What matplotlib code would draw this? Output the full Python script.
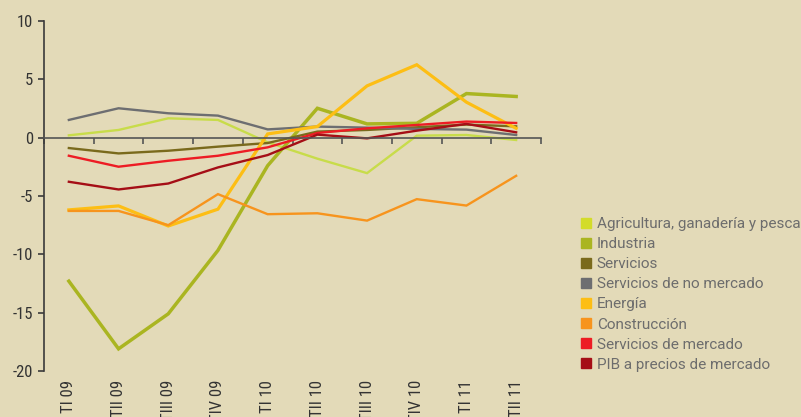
import matplotlib.pyplot as plt
from matplotlib.lines import Line2D
import numpy as np

trimestres = ['TI 09', 'TII 09', 'TIII 09', 'TIV 09', 'TI 10',
              'TII 10', 'TIII 10', 'TIV 10', 'TI 11', 'TII 11']

agricultura = [0.2, 0.66, 1.66, 1.52, -0.4, -1.8, -3.04, 0.17, 0.23, -0.2]
industria = [-12.3, -18.1, -15.1, -9.66, -2.4, 2.52, 1.18, 1.23, 3.78, 3.53]
servicios = [-0.89, -1.35, -1.12, -0.77, -0.46, 0.52, 0.66, 0.89, 1.12, 0.97]
no_mercado = [1.52, 2.52, 2.09, 1.89, 0.71, 0.95, 0.86, 0.75, 0.69, 0.23]
energia = [-6.19, -5.85, -7.57, -6.13, 0.32, 0.95, 4.44, 6.25, 3.04, 0.8]
construccion = [-6.28, -6.28, -7.5, -4.84, -6.56, -6.48, -7.11, -5.27, -5.82, -3.27]
mercado = [-1.55, -2.49, -1.98, -1.55, -0.83, 0.4, 0.8, 1.09, 1.38, 1.26]
pib = [-3.78, -4.44, -3.93, -2.55, -1.49, 0.26, -0.06, 0.6, 1.18, 0.46]

nombres = ['Agricultura, ganadería y pesca', 'Industria', 'Servicios',
           'Servicios de no mercado', 'Energía', 'Construcción',
           'Servicios de mercado', 'PIB a precios de mercado']
series = [agricultura, industria, servicios, no_mercado, energia,
          construccion, mercado, pib]
colores = ['#D3DC2A', '#AAB521', '#7A6A1C', '#6D6E71', '#FDBE14',
           '#F7941D', '#ED1C24', '#A50E16']
lineas = ['#C8DC4A', '#AAB521', '#7A6A1C', '#6D6E71', '#FDBE14',
          '#F7941D', '#ED1C24', '#A50E16']
grosor = [1.7, 2.5, 1.7, 1.7, 2.3, 1.7, 1.7, 1.7]

fondo = '#E3DAB8'
plt.rcParams['font.family'] = ['Liberation Sans Narrow', 'Roboto Condensed',
                               'Roboto', 'DejaVu Sans']
plt.rcParams['axes.unicode_minus'] = False

fig = plt.figure(figsize=(8.01, 4.17), dpi=100, facecolor=fondo)
ax = fig.add_axes([44 / 801, 1 - 371 / 417, 497 / 801, 350 / 417])
ax.set_facecolor(fondo)

x = np.arange(len(trimestres))
for s, c, w in zip(series, lineas, grosor):
    ax.plot(x, s, color=c, lw=w, solid_joinstyle='miter')

ax.set_xlim(-0.5, len(trimestres) - 0.5)
ax.set_ylim(-20, 10)
ax.set_yticks(np.arange(-20, 11, 5))
ax.tick_params(axis='y', direction='out', length=4, width=1.2,
               color='#3a3a3a', labelsize=12, labelcolor='#333333', pad=4)

for k in ['top', 'right']:
    ax.spines[k].set_visible(False)
ax.spines['left'].set_color('#3a3a3a')
ax.spines['left'].set_linewidth(1.2)
ax.spines['bottom'].set_position(('data', 0))
ax.spines['bottom'].set_color('#555555')
ax.spines['bottom'].set_linewidth(1.2)
ax.set_xticks(np.arange(-0.5, len(trimestres), 1))
ax.set_xticklabels([])
ax.tick_params(axis='x', direction='out', length=4, width=1.2, color='#555555')

sec = ax.secondary_xaxis(0)
sec.set_xticks(x)
sec.set_xticklabels(trimestres, rotation=90, va='top', ha='center')
sec.tick_params(length=0, pad=6.5, labelsize=12, labelcolor='#333333')
sec.spines['bottom'].set_visible(False)

handles = [Line2D([], [], ls='none', marker='s', ms=7.5, mfc=c, mec=c)
           for c in colores]
fig.legend(handles, nombres, loc='upper left',
           bbox_to_anchor=(580 / 801, 1 - 217 / 417), frameon=False,
           handlelength=0.8, handletextpad=0.3, labelspacing=0.4,
           borderaxespad=0, borderpad=0,
           prop={'family': 'Roboto', 'size': 11}, labelcolor='#6d6d6d')

fig.savefig('out.png', dpi=100, facecolor=fondo)
